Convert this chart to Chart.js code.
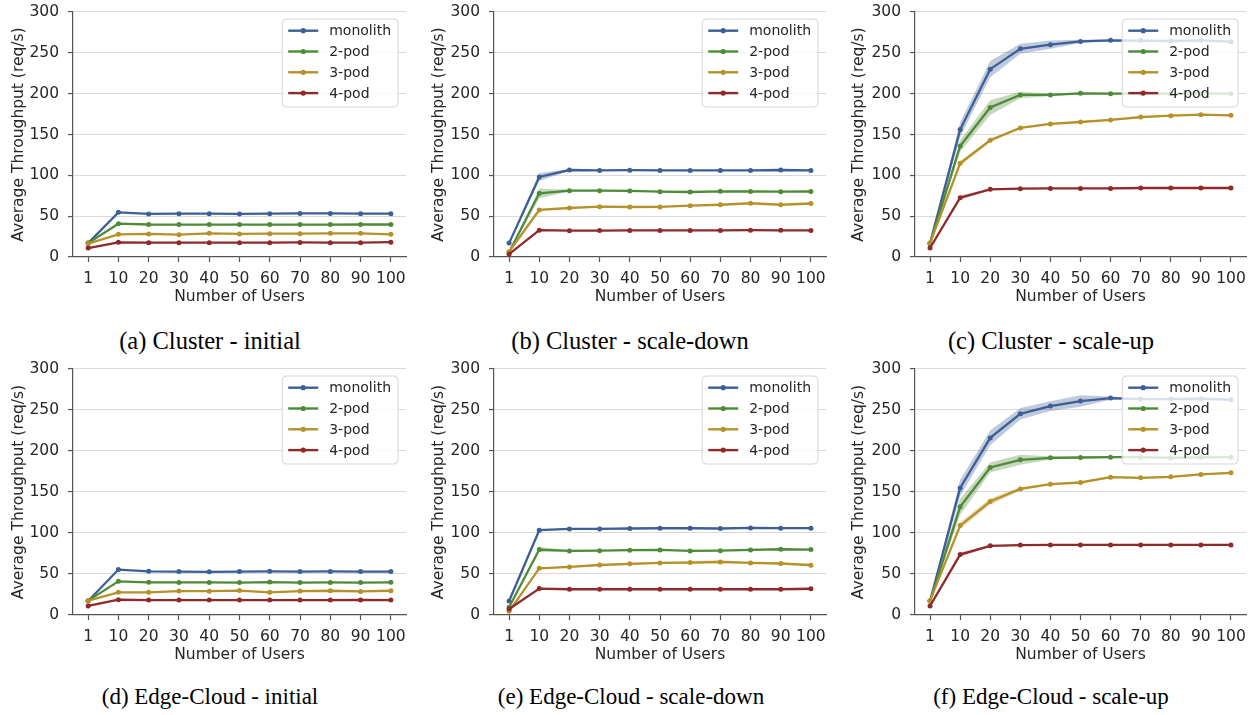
<!DOCTYPE html>
<html>
<head>
<meta charset="utf-8">
<script src="https://cdn.jsdelivr.net/npm/chart.js@4.4.1/dist/chart.umd.min.js"></script>
<style>
  body { margin: 0; background: #fff; }
  #page { position: relative; width: 1252px; height: 715px; overflow: hidden; }
  canvas { position: absolute; }
  .caption {
    position: absolute;
    font-family: "Liberation Serif", "Times New Roman", serif;
    font-size: 24.5px;
    line-height: 28px;
    color: #000;
    white-space: nowrap;
    transform: translateX(-50%);
  }
  .caption.edge { font-size: 23px; }
</style>
</head>
<body>
<div id="page"></div>
<script>
const users = ['1', '10', '20', '30', '40', '50', '60', '70', '80', '90', '100'];
const yTickValues = [0, 50, 100, 150, 200, 250, 300];
const seriesNames = ['monolith', '2-pod', '3-pod', '4-pod'];
const seriesColors = ['#3d5f96', '#4f8a38', '#b59229', '#8e2a2a'];
const bandColors = ['rgba(61,95,150,0.33)', 'rgba(79,138,56,0.33)', 'rgba(181,146,41,0.33)', 'rgba(142,42,42,0.33)'];

// (a) Cluster - initial
const clusterInitialMono = [17, 54.7, 52.7, 53, 53, 52.7, 53, 53.3, 53.3, 53, 53];
const clusterInitial2pod = [17, 40.8, 39.8, 39.7, 39.7, 39.7, 39.7, 39.7, 39.7, 39.8, 39.8];
const clusterInitial3pod = [16.5, 27.8, 28.2, 27.3, 29, 28.3, 28.6, 28.6, 29, 29, 27.8];
const clusterInitial4pod = [11, 18, 17.6, 17.6, 17.6, 17.6, 17.5, 17.8, 17.6, 17.6, 18.2];

// (b) Cluster - scale-down
const clusterDownMono = [17, 98, 106.5, 106, 106.3, 106, 106, 106, 106, 106.5, 106];
const clusterDown2pod = [5.7, 78, 81.2, 81.2, 80.9, 80, 79.6, 80.4, 80.2, 80, 80.2];
const clusterDown3pod = [6.5, 57.6, 60, 61.6, 61.2, 61.3, 62.9, 64, 65.8, 64, 65.5];
const clusterDown4pod = [3.5, 32.8, 32.2, 32.4, 32.5, 32.5, 32.6, 32.6, 32.8, 32.7, 32.6];
const clusterDownMonoBand = [0.5, 5, 1, 0.5, 0.5, 0.5, 0.5, 0.5, 0.5, 0.5, 0.5];
const clusterDown2podBand = [0.5, 6, 1, 0.5, 0.5, 0.5, 0.5, 0.5, 0.5, 0.5, 0.5];

// (c) Cluster - scale-up
const clusterUpMono = [17, 156, 230, 255, 260, 264, 265.3, 265, 264.5, 265.3, 263.7];
const clusterUp2pod = [16, 136, 183, 198.4, 198.4, 200.4, 200, 200, 200, 200, 200];
const clusterUp3pod = [17, 114.7, 142.9, 158, 163, 165.3, 167.8, 171.4, 173, 174.3, 173.5];
const clusterUp4pod = [11, 72.7, 82.9, 83.7, 84, 84, 84, 84.5, 84.5, 84.5, 84.5];
const clusterUpMonoBand = [1, 9, 10, 6, 5, 2, 1, 1, 1, 1, 1];
const clusterUp2podBand = [1, 7, 9, 4, 1.5, 1, 1, 1, 1, 1, 1];
const clusterUp3podBand = [0.5, 3, 2, 1, 1, 1, 1, 1.5, 1, 1, 1];
const clusterUp4podBand = [0.5, 2.5, 1, 0.5, 0.5, 0.5, 0.5, 0.5, 0.5, 0.5, 0.5];

// (d) Edge-Cloud - initial
const edgeInitialMono = [17, 55.4, 53.3, 52.9, 52.7, 52.9, 53.3, 52.9, 53.1, 52.9, 52.9];
const edgeInitial2pod = [17.5, 41.1, 39.9, 39.7, 39.7, 39.6, 40.2, 39.6, 39.7, 39.6, 39.8];
const edgeInitial3pod = [17.5, 27.7, 27.7, 29.2, 29.1, 29.8, 27.7, 29.2, 29.6, 28.8, 29.6];
const edgeInitial4pod = [11, 18.6, 18.2, 18.2, 18.2, 18.2, 18.2, 18.2, 18.2, 18.3, 18.2];

// (e) Edge-Cloud - scale-down
const edgeDownMono = [17, 103.4, 105, 105, 105.5, 105.8, 105.8, 105.5, 106.2, 105.9, 105.9];
const edgeDown2pod = [9.4, 79.8, 78.1, 78.5, 79, 79.4, 78.1, 78.5, 79.3, 80.2, 79.8];
const edgeDown3pod = [4.5, 57, 58.6, 61, 62.4, 63.5, 63.9, 64.7, 63.5, 62.8, 60.8];
const edgeDown4pod = [7.3, 32.2, 31.4, 31.4, 31.4, 31.4, 31.4, 31.4, 31.4, 31.4, 32];
const edgeDown2podBand = [0.5, 3, 1, 0.5, 0.5, 0.5, 0.5, 0.5, 0.5, 0.5, 0.5];
const edgeDown3podBand = [0.5, 1, 1, 1, 1, 1, 2, 2, 1, 1, 2];

// (f) Edge-Cloud - scale-up
const edgeUpMono = [17, 155, 216, 245.4, 254.8, 260.9, 264.5, 263.3, 263.3, 263.7, 262.5];
const edgeUp2pod = [17, 131.9, 179.9, 189.3, 191.7, 192.1, 192.5, 192.5, 191.5, 192.3, 192.5];
const edgeUp3pod = [17.5, 109, 138.4, 153.8, 159.5, 161.6, 168.1, 167.3, 168.5, 171.4, 173.4];
const edgeUp4pod = [11, 73.7, 84.3, 85.3, 85.5, 85.5, 85.5, 85.5, 85.5, 85.5, 85.5];
const edgeUpMonoBand = [1, 10, 9, 7, 6, 7, 2, 1, 1, 1, 1];
const edgeUp2podBand = [1, 10, 6, 6, 2, 1, 1, 1, 2, 1, 1];
const edgeUp3podBand = [0.5, 4, 4, 2, 1, 1, 1, 1, 1, 1, 1];
const edgeUp4podBand = [0.5, 2.5, 1, 0.5, 0.5, 0.5, 0.5, 0.5, 0.5, 0.5, 0.5];

const panels = [
  { caption: '(a) Cluster - initial', left: 0, top: 0, axisW: 73, capX: 210, capY: 327,
    lines: [clusterInitialMono, clusterInitial2pod, clusterInitial3pod, clusterInitial4pod], bands: [] },
  { caption: '(b) Cluster - scale-down', left: 420, top: 0, axisW: 74, capX: 630, capY: 327,
    lines: [clusterDownMono, clusterDown2pod, clusterDown3pod, clusterDown4pod],
    bands: [clusterDownMonoBand, clusterDown2podBand] },
  { caption: '(c) Cluster - scale-up', left: 840, top: 0, axisW: 75, capX: 1051, capY: 327,
    lines: [clusterUpMono, clusterUp2pod, clusterUp3pod, clusterUp4pod],
    bands: [clusterUpMonoBand, clusterUp2podBand, clusterUp3podBand, clusterUp4podBand] },
  { caption: '(d) Edge-Cloud - initial', left: 0, top: 357, axisW: 73, capX: 210, capY: 683,
    lines: [edgeInitialMono, edgeInitial2pod, edgeInitial3pod, edgeInitial4pod], bands: [] },
  { caption: '(e) Edge-Cloud - scale-down', left: 420, top: 357, axisW: 74, capX: 631, capY: 683,
    lines: [edgeDownMono, edgeDown2pod, edgeDown3pod, edgeDown4pod],
    bands: [null, edgeDown2podBand, edgeDown3podBand] },
  { caption: '(f) Edge-Cloud - scale-up', left: 840, top: 357, axisW: 75, capX: 1051, capY: 683,
    lines: [edgeUpMono, edgeUp2pod, edgeUp3pod, edgeUp4pod],
    bands: [edgeUpMonoBand, edgeUp2podBand, edgeUp3podBand, edgeUp4podBand] },
];

const FONT = '"DejaVu Sans", sans-serif';
const TEXT = '#262626';
const AXIS = '#555555';

// legend with a line + dot sample inside a rounded box, top right of the plot
const boxLegend = {
  id: 'boxLegend',
  afterDraw(chart) {
    const ctx = chart.ctx;
    const area = chart.chartArea;
    const items = chart.data.datasets.filter(d => !d.isBand);
    ctx.save();
    ctx.font = '14px ' + FONT;
    const textW = Math.max(...items.map(d => ctx.measureText(d.label).width));
    const w = 47 + textW + 7;
    const h = 88;
    const x = area.right - 8 - w;
    const y = area.top + 7;
    ctx.beginPath();
    ctx.roundRect(x, y, w, h, 4);
    ctx.fillStyle = 'rgba(255,255,255,0.8)';
    ctx.fill();
    ctx.strokeStyle = '#d4d4d4';
    ctx.lineWidth = 1;
    ctx.stroke();
    items.forEach((d, i) => {
      const cy = y + 11.7 + i * 20.8;
      ctx.strokeStyle = d.borderColor;
      ctx.lineWidth = 2.4;
      ctx.beginPath();
      ctx.moveTo(x + 6, cy);
      ctx.lineTo(x + 36, cy);
      ctx.stroke();
      ctx.fillStyle = d.borderColor;
      ctx.beginPath();
      ctx.arc(x + 21, cy, 2.6, 0, Math.PI * 2);
      ctx.fill();
      ctx.fillStyle = TEXT;
      ctx.textBaseline = 'middle';
      ctx.textAlign = 'left';
      ctx.fillText(d.label, x + 47, cy + 1);
    });
    ctx.restore();
  }
};

const page = document.getElementById('page');

panels.forEach(p => {
  const canvas = document.createElement('canvas');
  canvas.width = 410;
  canvas.height = p.top === 0 ? 310 : 311;
  canvas.style.left = p.left + 'px';
  canvas.style.top = p.top + 'px';
  page.appendChild(canvas);

  const cap = document.createElement('div');
  cap.className = p.top === 0 ? 'caption' : 'caption edge';
  cap.style.left = p.capX + 'px';
  cap.style.top = p.capY + 'px';
  cap.textContent = p.caption;
  page.appendChild(cap);

  const datasets = [];
  p.lines.forEach((values, i) => {
    datasets.push({
      label: seriesNames[i],
      data: values,
      borderColor: seriesColors[i],
      backgroundColor: seriesColors[i],
      borderWidth: 2.3,
      pointRadius: 2.5,
      pointBorderWidth: 0,
      pointBackgroundColor: seriesColors[i],
      tension: 0,
      fill: false,
      order: 3 - i
    });
  });
  p.bands.forEach((band, i) => {
    if (!band) return;
    const mean = p.lines[i];
    datasets.push({
      isBand: true,
      label: seriesNames[i] + ' low',
      data: mean.map((v, k) => v - band[k]),
      borderWidth: 0,
      borderColor: 'transparent',
      pointRadius: 0,
      fill: false,
      order: 10
    });
    datasets.push({
      isBand: true,
      label: seriesNames[i] + ' high',
      data: mean.map((v, k) => v + band[k]),
      borderWidth: 0,
      borderColor: 'transparent',
      backgroundColor: bandColors[i],
      pointRadius: 0,
      fill: '-1',
      order: 10
    });
  });

  new Chart(canvas, {
    type: 'line',
    data: { labels: users, datasets: datasets },
    options: {
      responsive: false,
      animation: false,
      layout: { padding: { top: 12, right: 2, left: 0, bottom: 0 } },
      plugins: {
        legend: { display: false },
        tooltip: { enabled: false },
        filler: { drawTime: 'beforeDatasetsDraw' }
      },
      scales: {
        x: {
          type: 'category',
          offset: true,
          afterFit: s => {
            s.height = 53;
            s.paddingLeft = 0;
            s.paddingRight = 0;
          },
          grid: { drawOnChartArea: false, drawTicks: true, tickLength: 5, tickColor: AXIS, tickWidth: 1.2 },
          border: { color: AXIS, width: 1.2 },
          ticks: { color: TEXT, font: { family: FONT, size: 15.5 }, padding: 8, maxRotation: 0, autoSkip: false },
          title: { display: true, text: 'Number of Users', color: TEXT, font: { family: FONT, size: 15.5 }, padding: { top: 0, bottom: 4 } }
        },
        y: {
          min: 0,
          max: 300,
          afterFit: s => {
            s.width = p.axisW;
            s.paddingTop = 0;
            s.paddingBottom = 0;
          },
          afterBuildTicks: s => { s.ticks = yTickValues.map(v => ({ value: v })); },
          grid: { color: '#d9d9d9', lineWidth: 1.1, drawTicks: true, tickLength: 5, tickColor: AXIS, tickWidth: 1.2 },
          border: { color: AXIS, width: 1.2 },
          ticks: { color: TEXT, font: { family: FONT, size: 15.5 }, padding: 9 },
          title: { display: true, text: 'Average Throughput (req/s)', color: TEXT, font: { family: FONT, size: 15.5 }, padding: { top: 10, bottom: 0 } }
        }
      }
    },
    plugins: [boxLegend]
  });
});
</script>
</body>
</html>
